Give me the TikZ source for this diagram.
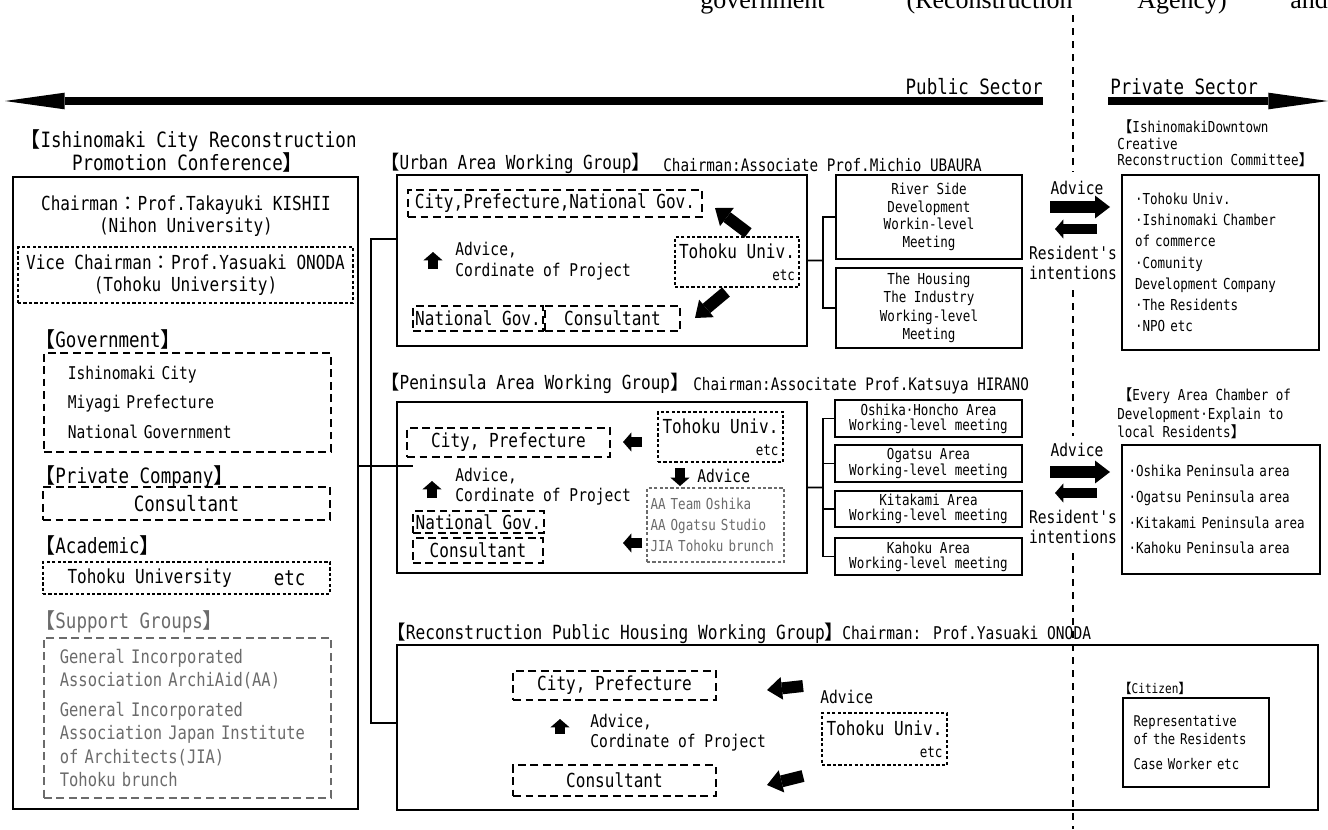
\documentclass[tikz,border=0pt]{standalone}
\usepackage{fontspec}
\usepackage{tikz}
\usetikzlibrary{arrows.meta,positioning}
\newfontfamily\gothic[FakeStretch=0.83]{DejaVu Sans Mono}
\newfontfamily\cjk{Noto Sans CJK JP}
\newfontfamily\bodyserif{Liberation Serif}
\newcommand{\lbk}{{\cjk 【}}
\newcommand{\rbk}{{\cjk 】}}
\newcommand{\zcolon}{{\cjk ：}}
\newcommand{\ftBig}{\gothic\fontsize{12}{13}\selectfont}
\newcommand{\ftTitle}{\gothic\fontsize{11.1}{13}\selectfont}
\newcommand{\ftMed}{\gothic\fontsize{11}{12.5}\selectfont}
\newcommand{\ftNorm}{\gothic\fontsize{10}{11.8}\selectfont}
\newcommand{\ftChair}{\gothic\fontsize{9.8}{11}\selectfont}
\newcommand{\ftSmall}{\gothic\fontsize{8.6}{9.4}\selectfont}
\newcommand{\ftTiny}{\gothic\fontsize{7.6}{9}\selectfont}
\definecolor{supgray}{gray}{0.42}
\tikzset{
    solidbox/.style={draw, line width=1.2pt, inner sep=0pt, outer sep=0pt},
    dashbox/.style={draw, line width=1pt, dash pattern=on 4.5pt off 2.6pt, inner sep=0pt},
    dotbox/.style={draw, line width=1pt, dash pattern=on 1.8pt off 1.3pt, inner sep=0pt},
    headtext/.style={anchor=west, inner sep=0pt},
    link/.style={line width=1.1pt},
    divider/.style={line width=1.3pt, dash pattern=on 4pt off 3.4pt},
}

\begin{document}
\begin{tikzpicture}[
            x=0.02cm, y=-0.02cm,
            sectorarrow/.style={line width=5pt, -{Triangle[length=34pt,width=9.5pt,line width=0pt]}},
            blockarrow/.style={line width=5.7pt, -{Triangle[length=4.8pt,width=11pt,line width=0pt]}},
            bigarrow/.style={line width=6.8pt, -{Triangle[length=8.5pt,width=13pt,line width=0pt]}}
        ]
            \useasboundingbox (0,0) rectangle (1328,829);
            % text of the page above
            \node[anchor=base west, inner sep=0pt, font=\bodyserif\fontsize{14.8}{16}\selectfont] (txtgov) at (700,8) {government};
            \node[anchor=base east, inner sep=0pt, font=\bodyserif\fontsize{14.8}{16}\selectfont] (txtrec) at (1073,8) {(Reconstruction};
            \node[anchor=base west, inner sep=0pt, font=\bodyserif\fontsize{14.8}{16}\selectfont] (txtage) at (1137,8) {Agency)};
            \node[anchor=base west, inner sep=0pt, font=\bodyserif\fontsize{14.8}{16}\selectfont] (txtand) at (1290,8) {and};
            % sector arrows
            \coordinate (pubE) at (1043,101);
            \coordinate (pubW) at (5,101);
            \coordinate (priW) at (1108,101);
            \coordinate (priE) at (1328,101);
            \draw[sectorarrow] (pubE) -- (pubW);
            \draw[sectorarrow] (priW) -- (priE);
            \node[anchor=base east, inner sep=0pt, font=\ftBig] (pubtxt) at (1043,94) {Public Sector};
            \node[anchor=base west, inner sep=0pt, font=\ftBig] (pritxt) at (1110,94) {Private Sector};
            % divider
            \coordinate (divT) at (1073,15);
            \coordinate (divA) at (1073,172);
            \coordinate (divB) at (1073,290);
            \coordinate (divC) at (1073,436);
            \coordinate (divD) at (1073,553);
            \coordinate (divE) at (1073,829);
            \draw[divider] (divT) -- (divA);
            \draw[divider] (divB) -- (divC);
            \draw[divider] (divD) -- (divE);
            % conference
            \node[inner sep=0pt, align=center, font=\ftBig] (conftitle) at (188,151) {\lbk Ishinomaki City Reconstruction\\Promotion Conference\rbk};
            \node[solidbox, minimum width=6.9cm, minimum height=12.64cm, anchor=north west] (confbox) at (13,177) {};
            \node[inner sep=0pt, align=center, font=\ftMed] (chair) at (186,216) {Chairman\zcolon Prof.Takayuki KISHII\\(Nihon University)};
            \node[dotbox, minimum width=6.7cm, minimum height=1.12cm, align=center, font=\ftMed] (vice) at (185.5,275) {Vice Chairman\zcolon Prof.Yasuaki ONODA\\(Tohoku University)};
            \node[headtext, font=\ftBig] (govhead) at (34,339) {\lbk Government\rbk};
            \node[dashbox, anchor=north west, minimum width=5.74cm, minimum height=1.98cm, text width=4.78cm, inner xsep=0.48cm, align=left, font=\gothic\fontsize{10}{17}\selectfont] (govbox) at (43,352) {Ishinomaki City\\Miyagi Prefecture\\National Government};
            \node[headtext, font=\ftBig] (privhead) at (34,477) {\lbk Private Company\rbk};
            \node[dashbox, minimum width=5.74cm, minimum height=0.66cm, font=\ftBig] (privbox) at (186.5,503.5) {Consultant\hspace{18pt}};
            \node[headtext, font=\ftBig] (acadhead) at (34,545) {\lbk Academic\rbk};
            \node[dotbox, minimum width=5.74cm, minimum height=0.64cm, font=\ftMed] (acadbox) at (186.5,578) {Tohoku University\hspace{24pt}\raisebox{-1.5pt}{\ftBig etc}};
            \node[headtext, font=\ftBig, text=supgray] (suphead) at (34,622) {\lbk Support Groups\rbk};
            \node[dashbox, draw=supgray, text=supgray, anchor=north west, minimum width=5.74cm, minimum height=3.2cm, text width=5.1cm, inner xsep=0.32cm, align=left, font=\gothic\fontsize{10.6}{13.4}\selectfont] (supbox) at (43,637) {General Incorporated\\Association ArchiAid(AA)\\[3.4pt]General Incorporated\\Association Japan Institute\\of Architects(JIA)\\Tohoku brunch};
            % urban area working group
            \node[headtext, font=\ftMed] (urbtitle) at (380,163) {\lbk Urban Area Working Group\rbk};
            \node[headtext, font=\ftChair] (urbchair) at (663,165) {Chairman:Associate Prof.Michio UBAURA};
            \node[solidbox, minimum width=8.2cm, minimum height=3.42cm, anchor=north west] (urban) at (397,175) {};
            \node[dashbox, minimum width=5.88cm, minimum height=0.54cm, font=\ftMed] (ucity) at (555,203.5) {City,Prefecture,National Gov.};
            \node[dotbox, minimum width=2.48cm, minimum height=1cm, align=right, font=\ftMed] (utohoku) at (737,262) {Tohoku Univ.\\{\ftSmall etc}};
            \node[headtext, align=left, font=\gothic\fontsize{10}{12}\selectfont] (ucoord) at (455,261.5) {Advice,\\Cordinate of Project};
            \node[dashbox, minimum width=2.6cm, minimum height=0.5cm, font=\ftMed] (unat) at (478,318.5) {National Gov.};
            \node[dashbox, minimum width=2.7cm, minimum height=0.5cm, font=\ftMed] (ucons) at (612.5,318.5) {Consultant};
            \coordinate (uupB) at (433,269);
            \coordinate (uupT) at (433,252);
            \coordinate (ua1s) at (748,233);
            \coordinate (ua1e) at (715,208);
            \coordinate (ua2s) at (726,292);
            \coordinate (ua2e) at (695,318);
            \draw[blockarrow] (uupB) -- (uupT);
            \draw[bigarrow] (ua1s) -- (ua1e);
            \draw[bigarrow] (ua2s) -- (ua2e);
            \node[solidbox, minimum width=3.72cm, minimum height=1.68cm, align=center, font=\gothic\fontsize{8.6}{10}\selectfont] (um1) at (929,217) {River Side\\Development\\Workin-level\\Meeting};
            \node[solidbox, minimum width=3.72cm, minimum height=1.6cm, align=center, font=\gothic\fontsize{8.6}{10.4}\selectfont] (um2) at (929,308) {The Housing\\The Industry\\Working-level\\Meeting};
            \coordinate (ubr) at (823,260.5);
            \draw[link] (urban.east) -- (ubr);
            \draw[link] (um1.west) -| (ubr) |- (um2.west);
            % urban exchange
            \node[inner sep=0pt, font=\ftNorm] (uxadv) at (1077,188) {Advice};
            \coordinate (uxR1) at (1050,207);
            \coordinate (uxR2) at (1110,207);
            \coordinate (uxL1) at (1097,229);
            \coordinate (uxL2) at (1055,229);
            \draw[bigarrow] (uxR1) -- (uxR2);
            \draw[blockarrow] (uxL1) -- (uxL2);
            \node[inner sep=0pt, align=center, font=\gothic\fontsize{10}{11.4}\selectfont] (uxres) at (1073,263) {Resident's\\intentions};
            \node[headtext, align=left, font=\gothic\fontsize{8.6}{9.4}\selectfont] (udtitle) at (1117,143.5) {\lbk IshinomakiDowntown\\Creative\\Reconstruction Committee\rbk};
            \node[solidbox, minimum width=3.94cm, minimum height=3.5cm, text width=3.42cm, inner xsep=0.26cm, align=left, font=\gothic\fontsize{8.6}{12.1}\selectfont] (udbox) at (1220.5,262.5) {·Tohoku Univ.\\·Ishinomaki Chamber\\of commerce\\·Comunity\\Development Company\\·The Residents\\·NPO etc};
            % peninsula area working group
            \node[headtext, font=\ftMed] (pentitle) at (380,383) {\lbk Peninsula Area Working Group\rbk};
            \node[headtext, font=\ftChair] (penchair) at (693,386) {Chairman:Associtate Prof.Katsuya HIRANO};
            \node[solidbox, minimum width=8.2cm, minimum height=3.42cm, anchor=north west] (penin) at (397,402) {};
            \node[dashbox, minimum width=4.06cm, minimum height=0.58cm, font=\ftMed] (pcity) at (508.5,442.5) {City, Prefecture};
            \node[dotbox, minimum width=2.5cm, minimum height=1cm, align=right, font=\ftMed] (ptohoku) at (720.5,437) {Tohoku Univ.\\{\ftSmall etc}};
            \node[headtext, font=\ftNorm] (penadv) at (697,476) {Advice};
            \node[headtext, align=left, font=\gothic\fontsize{10}{11}\selectfont] (pcoord) at (455,486.5) {Advice,\\Cordinate of Project};
            \node[dashbox, minimum width=2.62cm, minimum height=0.44cm, font=\ftMed] (pnat) at (478.5,522) {National Gov.};
            \node[dashbox, minimum width=2.6cm, minimum height=0.5cm, font=\ftMed] (pcons) at (478,550.5) {Consultant};
            \node[dotbox, draw=supgray, text=supgray, minimum width=2.74cm, minimum height=1.48cm, text width=2.6cm, inner xsep=0.07cm, align=left, font=\gothic\fontsize{8.6}{12}\selectfont] (psup) at (715.5,525) {AA Team Oshika\\AA Ogatsu Studio\\JIA Tohoku brunch};
            \coordinate (pl1s) at (642,442);
            \coordinate (pl1e) at (623,442);
            \coordinate (pdnT) at (680,468);
            \coordinate (pdnB) at (680,486);
            \coordinate (pupB) at (432,498);
            \coordinate (pupT) at (432,481);
            \coordinate (pl2s) at (642,543);
            \coordinate (pl2e) at (623,543);
            \draw[blockarrow] (pl1s) -- (pl1e);
            \draw[blockarrow] (pdnT) -- (pdnB);
            \draw[blockarrow] (pupB) -- (pupT);
            \draw[blockarrow] (pl2s) -- (pl2e);
            \node[solidbox, minimum width=3.74cm, minimum height=0.74cm, align=center, font=\gothic\fontsize{8.6}{8.6}\selectfont] (pm1) at (928.5,418.5) {Oshika·Honcho Area\\Working-level meeting};
            \node[solidbox, minimum width=3.74cm, minimum height=0.74cm, align=center, font=\gothic\fontsize{8.6}{8.6}\selectfont] (pm2) at (928.5,463.5) {Ogatsu Area\\Working-level meeting};
            \node[solidbox, minimum width=3.74cm, minimum height=0.72cm, align=center, font=\gothic\fontsize{8.6}{8.6}\selectfont] (pm3) at (928.5,509) {Kitakami Area\\Working-level meeting};
            \node[solidbox, minimum width=3.74cm, minimum height=0.74cm, align=center, font=\gothic\fontsize{8.6}{8.6}\selectfont] (pm4) at (928.5,556.5) {Kahoku Area\\Working-level meeting};
            \coordinate (pbr) at (823,487.5);
            \draw[link] (penin.east) -- (pbr);
            \draw[link] (pm1.west) -| (pbr) |- (pm4.west);
            \draw[link] (pm2.west) -- (pm2.west -| pbr);
            \draw[link] (pm3.west) -- (pm3.west -| pbr);
            % peninsula exchange
            \node[inner sep=0pt, font=\ftNorm] (pxadv) at (1077,450) {Advice};
            \coordinate (pxR1) at (1050,472);
            \coordinate (pxR2) at (1110,472);
            \coordinate (pxL1) at (1097,493);
            \coordinate (pxL2) at (1055,493);
            \draw[bigarrow] (pxR1) -- (pxR2);
            \draw[blockarrow] (pxL1) -- (pxL2);
            \node[inner sep=0pt, align=center, font=\gothic\fontsize{10}{11.4}\selectfont] (pxres) at (1073,527) {Resident's\\intentions};
            \node[headtext, align=left, font=\gothic\fontsize{8.6}{10.5}\selectfont] (petitle) at (1117,413.5) {\lbk Every Area Chamber of\\Development·Explain to\\local Residents\rbk};
            \node[solidbox, minimum width=3.96cm, minimum height=2.58cm, text width=3.7cm, inner xsep=0.13cm, align=left, font=\gothic\fontsize{8.6}{14.6}\selectfont] (pebox) at (1221,509.5) {·Oshika Peninsula area\\·Ogatsu Peninsula area\\·Kitakami Peninsula area\\·Kahoku Peninsula area};
            % public housing working group
            \node[headtext, font=\ftTitle] (houtitle) at (386,633) {\lbk Reconstruction Public Housing Working Group\rbk};
            \node[headtext, font=\ftNorm] (houchair) at (842,633) {Chairman: Prof.Yasuaki ONODA};
            \node[solidbox, minimum width=18.42cm, minimum height=3.3cm, anchor=north west] (housing) at (397,645) {};
            \node[dashbox, minimum width=4.06cm, minimum height=0.58cm, font=\ftMed] (hcity) at (614.5,685.5) {City, Prefecture};
            \node[dashbox, minimum width=4.06cm, minimum height=0.62cm, font=\ftMed] (hcons) at (614.5,780.5) {Consultant};
            \node[dotbox, minimum width=2.5cm, minimum height=1.04cm, align=right, font=\ftMed] (htohoku) at (884.5,739) {Tohoku Univ.\\{\ftSmall etc}};
            \node[headtext, font=\ftNorm] (hadv) at (820,697) {Advice};
            \node[headtext, align=left, font=\gothic\fontsize{10}{11.4}\selectfont] (hcoord) at (590,733) {Advice,\\Cordinate of Project};
            \coordinate (hupB) at (560,734);
            \coordinate (hupT) at (560,719);
            \coordinate (ha1s) at (803,686);
            \coordinate (ha1e) at (767,690);
            \coordinate (ha2s) at (803,776);
            \coordinate (ha2e) at (767,785);
            \draw[blockarrow] (hupB) -- (hupT);
            \draw[bigarrow] (ha1s) -- (ha1e);
            \draw[bigarrow] (ha2s) -- (ha2e);
            \node[headtext, font=\ftTiny] (cithead) at (1118,688) {\lbk Citizen\rbk};
            \node[solidbox, minimum width=2.92cm, minimum height=1.78cm, text width=2.5cm, inner xsep=0.21cm, align=left, font=\gothic\fontsize{8.4}{10.2}\selectfont] (citbox) at (1196,742.5) {Representative\\of the Residents\\[4.5pt]Case Worker etc};
            % links to working groups
            \coordinate (trunkT) at (371,239);
            \coordinate (trunkB) at (371,723);
            \coordinate (trunkJ) at (413,466);
            \draw[link] (urban.west |- trunkT) -| (trunkB) -- (housing.west |- trunkB);
            \draw[link] (confbox.east |- trunkJ) -- (trunkJ);
        \end{tikzpicture}
\end{document}
